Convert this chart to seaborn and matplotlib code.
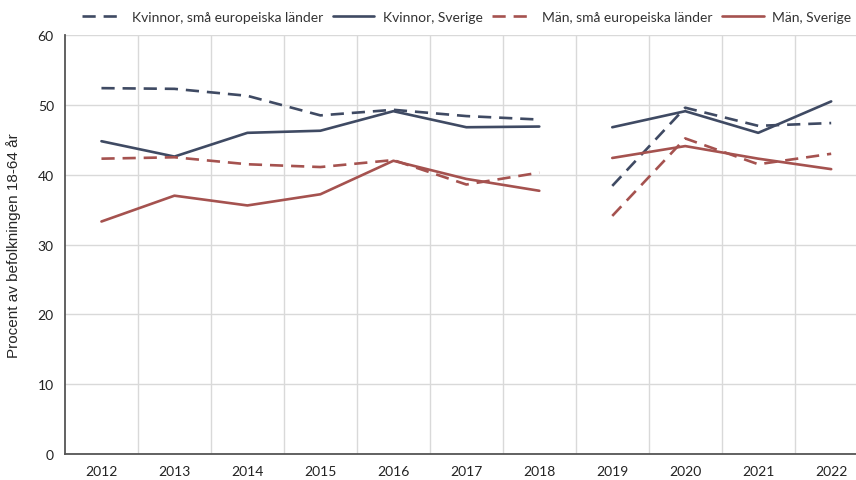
import numpy as np
import pandas as pd
import seaborn as sns
from matplotlib import pyplot as plt

years = [2012, 2013, 2014, 2015, 2016, 2017, 2018, 2019, 2020, 2021, 2022]
kvinnor_sma = [52.4, 52.3, 51.3, 48.5, 49.3, 48.4, 47.9, 38.4, 49.6, 47.0, 47.4]
kvinnor_sverige = [44.8, 42.6, 46.0, 46.3, 49.1, 46.8, 46.9, 46.8, 49.1, 46.0, 50.5]
man_sma = [42.3, 42.5, 41.5, 41.1, 42.1, 38.6, 40.3, 34.1, 45.2, 41.5, 43.0]
man_sverige = [33.3, 37.0, 35.6, 37.2, 42.0, 39.4, 37.7, 42.4, 44.1, 42.3, 40.8]
series_names = ['Kvinnor, små europeiska länder', 'Kvinnor, Sverige',
                'Män, små europeiska länder', 'Män, Sverige']
# the series break between 2018 and 2019
break_year = 2019

blue = '#3f4a63'
red = '#a5524f'

rows = []
for name, vals in zip(series_names, [kvinnor_sma, kvinnor_sverige, man_sma, man_sverige]):
    for i, (yr, v) in enumerate(zip(years, vals)):
        rows.append({'pos': i, 'value': v, 'serie': name,
                     'period': 0 if yr < break_year else 1})
df = pd.DataFrame(rows)

sns.set_style('white')
plt.rcParams['font.family'] = ['Lato', 'DejaVu Sans']

fig = plt.figure(figsize=(8.56, 4.81), dpi=100)
ax = fig.add_axes([0.0759, 0.054, 0.9241, 0.871])

sns.lineplot(data=df, x='pos', y='value', hue='serie', style='serie',
             units='period', estimator=None, ax=ax,
             hue_order=series_names, style_order=series_names,
             palette=[blue, blue, red, red],
             dashes=[(5, 3), '', (5, 3), ''], linewidth=1.9, legend=True)

ax.set_xlim(-0.5, 10.34)
ax.set_ylim(0, 60)
ax.set_yticks(range(0, 61, 10))
ax.set_xticks(range(len(years)))
ax.set_xticklabels([str(y) for y in years])
ax.set_xticks(np.arange(0.5, 10, 1), minor=True)
ax.grid(False)
ax.grid(axis='y', which='major', color='#d9d9d9', linewidth=1)
ax.grid(axis='x', which='minor', color='#d9d9d9', linewidth=1)
ax.set_axisbelow(True)
ax.tick_params(axis='both', which='both', length=0, labelsize=10, colors='#222222')
ax.tick_params(axis='x', pad=8)
ax.tick_params(axis='y', pad=8)
for s in ['top', 'right']:
    ax.spines[s].set_visible(False)
for s in ['left', 'bottom']:
    ax.spines[s].set_color('#555555')
    ax.spines[s].set_linewidth(1.3)
ax.set_xlabel('')
ax.set_ylabel('Procent av befolkningen 18-64 år', fontsize=11,
              family=['Liberation Sans', 'DejaVu Sans'], labelpad=12)

handles, labels = ax.get_legend_handles_labels()
ax.get_legend().remove()
fig.legend(handles, labels, loc='center', bbox_to_anchor=(0.545, 0.962),
           ncol=4, frameon=False, fontsize=10, handlelength=3.0,
           columnspacing=0.7, handletextpad=0.6, borderpad=0.2,
           labelcolor='#333333')

fig.savefig('out.png', dpi=100)
plt.close(fig)
